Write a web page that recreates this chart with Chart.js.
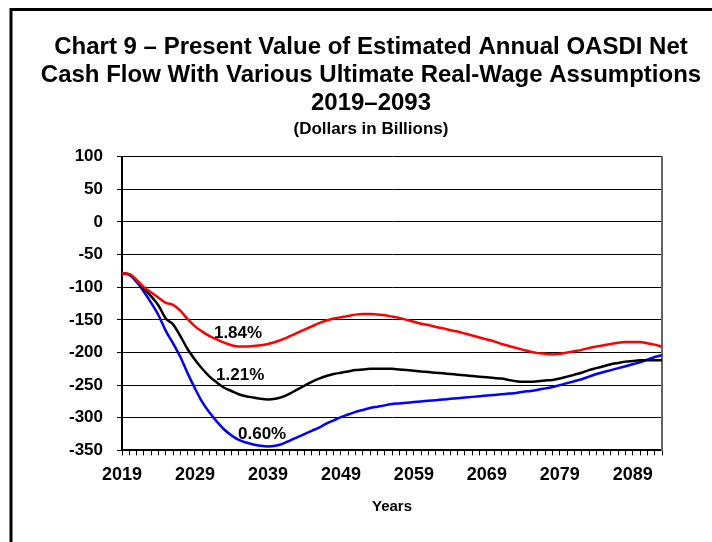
<!DOCTYPE html>
<html>
<head>
<meta charset="utf-8">
<script src="https://cdn.jsdelivr.net/npm/chart.js@4.4.0/dist/chart.umd.min.js"></script>
<style>
  body { margin: 0; background: #fff; overflow: hidden; }
  canvas { display: block; }
</style>
</head>
<body>
<canvas id="myChart" width="712" height="542"></canvas>
<script>
// years 2019 - 2093
var years = [2019, 2020, 2021, 2022, 2023, 2024, 2025, 2026, 2027, 2028,
  2029, 2030, 2031, 2032, 2033, 2034, 2035, 2036, 2037, 2038,
  2039, 2040, 2041, 2042, 2043, 2044, 2045, 2046, 2047, 2048,
  2049, 2050, 2051, 2052, 2053, 2054, 2055, 2056, 2057, 2058,
  2059, 2060, 2061, 2062, 2063, 2064, 2065, 2066, 2067, 2068,
  2069, 2070, 2071, 2072, 2073, 2074, 2075, 2076, 2077, 2078,
  2079, 2080, 2081, 2082, 2083, 2084, 2085, 2086, 2087, 2088,
  2089, 2090, 2091, 2092, 2093];

// 1.84% ultimate real-wage differential
var high184 = [-79, -80, -89, -100, -108, -116, -124, -127, -136, -149,
  -160, -168, -175, -180, -185, -189, -191, -191, -190, -189,
  -187, -184, -180, -175, -170, -165, -160, -155, -151, -148,
  -146, -144, -142, -141, -141, -142, -143, -145, -147, -150,
  -153, -156, -158, -161, -163, -166, -168, -171, -174, -177,
  -180, -183, -187, -190, -193, -196, -199, -201, -202, -203,
  -202, -200, -198, -196, -193, -191, -189, -187, -185, -184,
  -184, -184, -186, -188, -191];

// 1.21% (intermediate)
var mid121 = [-79, -80, -90, -102, -114, -128, -148, -157, -175, -195,
  -211, -225, -237, -246, -254, -259, -264, -267, -269, -271,
  -272, -271, -268, -263, -257, -251, -245, -240, -236, -233,
  -231, -229, -227, -226, -225, -225, -225, -225, -226, -227,
  -228, -229, -230, -231, -232, -233, -234, -235, -236, -237,
  -238, -239, -240, -242, -244, -245, -245, -244, -243, -242,
  -240, -237, -234, -231, -227, -224, -221, -218, -216, -214,
  -213, -212, -212, -212, -212];

// 0.60%
var low060 = [-79, -81, -92, -107, -124, -143, -167, -186, -207, -232,
  -255, -276, -292, -306, -318, -327, -334, -338, -341, -343,
  -344, -343, -340, -335, -330, -325, -320, -315, -309, -304,
  -299, -295, -291, -288, -285, -283, -281, -279, -278, -277,
  -276, -275, -274, -273, -272, -271, -270, -269, -268, -267,
  -266, -265, -264, -263, -262, -260, -259, -257, -255, -253,
  -250, -247, -244, -241, -237, -233, -230, -227, -224, -221,
  -218, -215, -211, -207, -204];

var xTickLabels = ['2019', '2029', '2039', '2049', '2059', '2069', '2079', '2089'];

// label text, year, value
var lineLabels = [
  ['1.84%', 2034.9, -171],
  ['1.21%', 2035.2, -235],
  ['0.60%', 2038.2, -325]
];

const boldFont = "'Liberation Sans', Arial, sans-serif";

const frameAndLabels = {
  id: 'frameAndLabels',
  beforeDraw(chart) {
    const c = chart.ctx;
    c.save();
    c.fillStyle = '#fff';
    c.fillRect(0, 0, chart.width, chart.height);
    c.strokeStyle = '#000';
    c.lineWidth = 3;
    c.beginPath();
    c.moveTo(11, chart.height + 5);
    c.lineTo(11, 9.5);
    c.lineTo(chart.width + 5, 9.5);
    c.stroke();
    c.restore();
  },
  afterDatasetsDraw(chart) {
    const c = chart.ctx;
    const xs = chart.scales.x, ys = chart.scales.y;
    c.save();
    c.fillStyle = '#000';
    c.font = 'bold 17px ' + boldFont;
    c.textAlign = 'center';
    c.textBaseline = 'middle';
    lineLabels.forEach(l => {
      var idx = l[1] - years[0];
      var x0 = xs.getPixelForValue(Math.floor(idx));
      var x1 = xs.getPixelForValue(Math.floor(idx) + 1);
      var x = x0 + (x1 - x0) * (idx - Math.floor(idx));
      c.fillText(l[0], x, ys.getPixelForValue(l[2]));
    });
    c.restore();
  }
};

var ctx = document.getElementById('myChart').getContext('2d');
var myChart = new Chart(ctx, {
  type: 'line',
  data: {
    labels: years,
    datasets: [
      { label: '1.84%', data: high184, borderColor: '#ff0000' },
      { label: '1.21%', data: mid121, borderColor: '#000000' },
      { label: '0.60%', data: low060, borderColor: '#0000ff' }
    ]
  },
  options: {
    responsive: false,
    animation: false,
    elements: {
      line: { borderWidth: 2.5, tension: 0.3, cubicInterpolationMode: 'monotone' },
      point: { radius: 0 }
    },
    layout: { padding: { left: 30, right: 0, top: 0, bottom: 26 } },
    plugins: {
      legend: { display: false },
      tooltip: { enabled: false },
      title: {
        display: true,
        text: ['Chart 9 \u2013 Present Value of Estimated Annual OASDI Net',
               'Cash Flow With Various Ultimate Real-Wage Assumptions',
               '2019\u20132093'],
        color: '#000',
        font: { family: boldFont, size: 24, weight: 'bold', lineHeight: 1.17 },
        padding: { top: 33, bottom: 0 }
      },
      subtitle: {
        display: true,
        text: '(Dollars in Billions)',
        color: '#000',
        font: { family: boldFont, size: 17, weight: 'bold', lineHeight: 1.2 },
        padding: { top: 2, bottom: 17 }
      }
    },
    scales: {
      x: {
        grid: { display: true, drawOnChartArea: false, drawTicks: true, tickLength: 5, color: '#000', lineWidth: 1 },
        border: { color: '#000', width: 2 },
        ticks: {
          autoSkip: false,
          maxRotation: 0,
          color: '#000',
          padding: 9,
          font: { family: boldFont, size: 18, weight: 'bold' },
          callback: function (val) {
            var lab = String(years[val]);
            return xTickLabels.includes(lab) ? lab : '';
          }
        },
        title: {
          display: true,
          text: 'Years',
          color: '#000',
          font: { family: boldFont, size: 15, weight: 'bold' },
          padding: { top: 3, bottom: 0 }
        }
      },
      y: {
        min: -350,
        max: 100,
        afterFit: function (scale) { scale.width = 92; },
        grid: { color: '#000', lineWidth: 1, tickLength: 5 },
        border: { color: '#000', width: 2 },
        ticks: {
          stepSize: 50,
          color: '#000',
          padding: 14,
          font: { family: boldFont, size: 17, weight: 'bold' }
        }
      },
      y2: {
        position: 'right',
        afterFit: function (scale) { scale.width = 50; },
        grid: { display: false },
        ticks: { display: false },
        border: { color: '#666', width: 2 }
      }
    }
  },
  plugins: [frameAndLabels]
});
</script>
</body>
</html>
